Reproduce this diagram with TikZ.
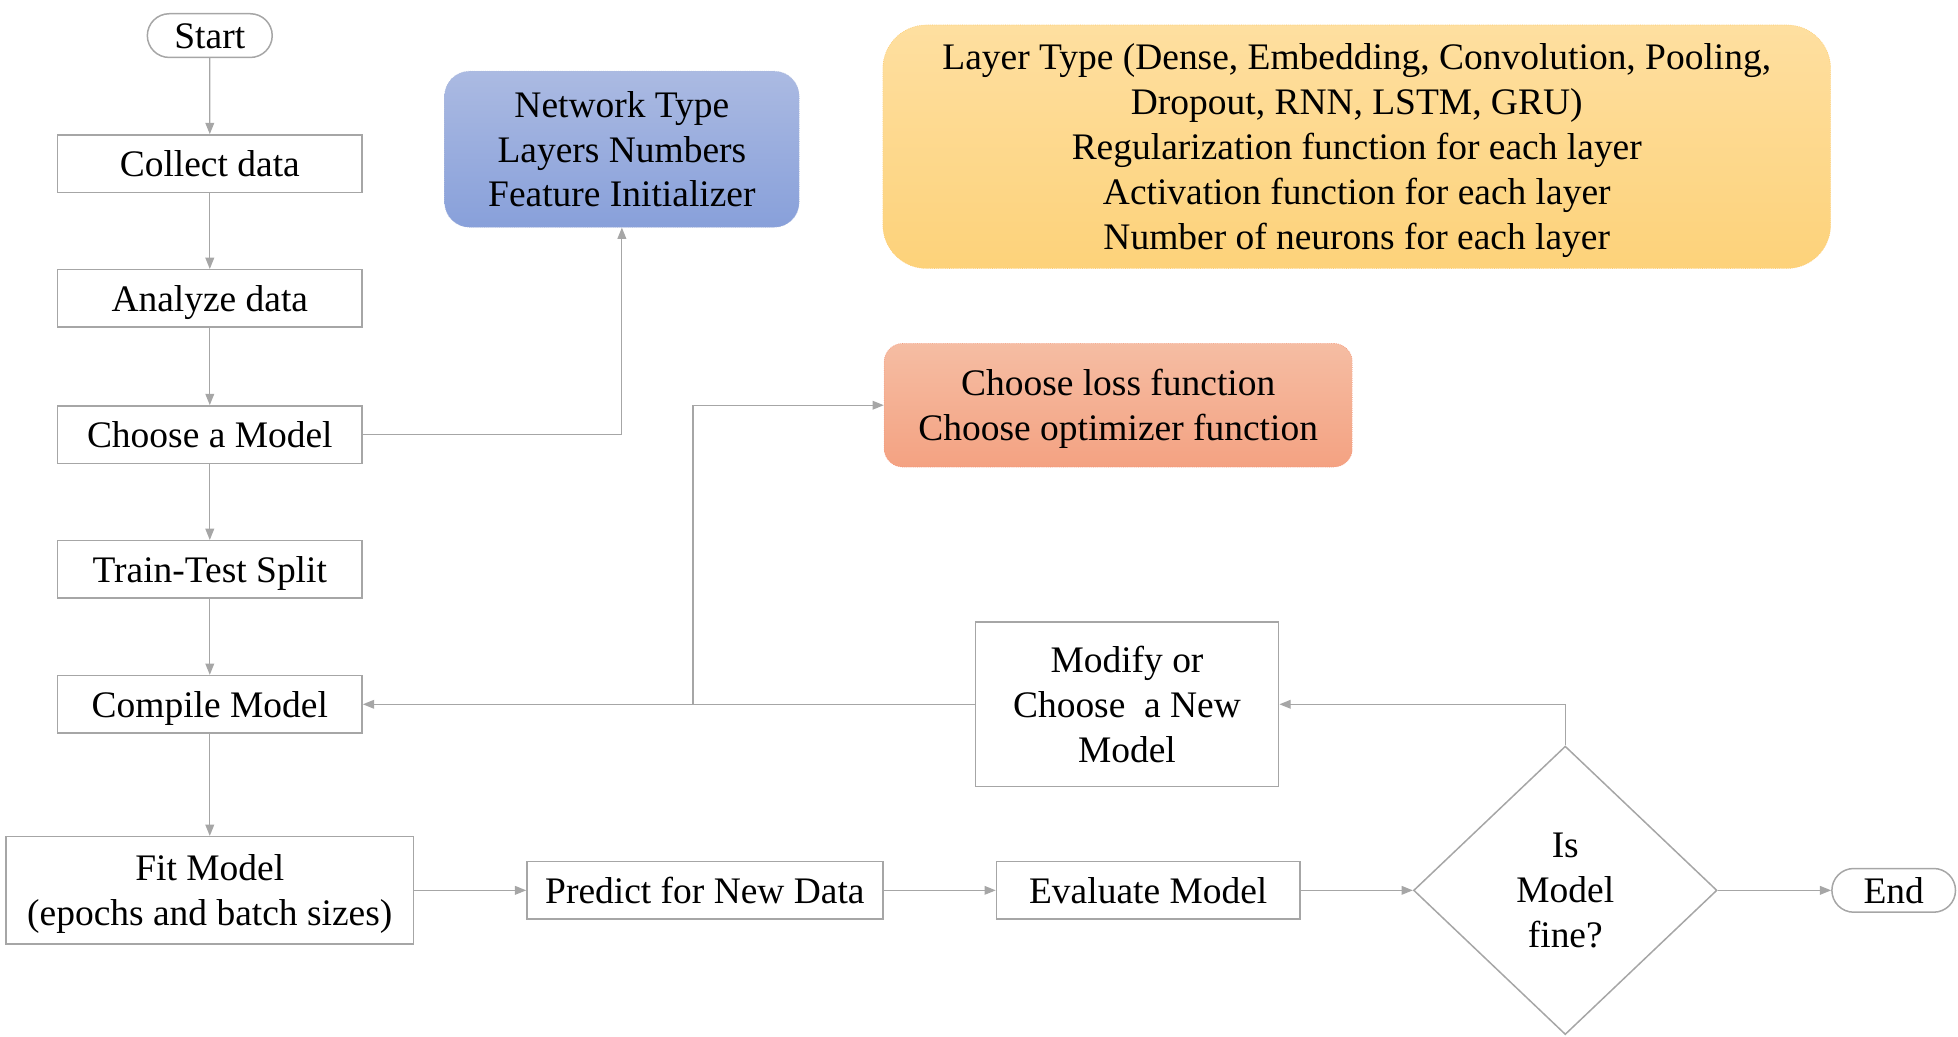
\documentclass[tikz,border=0pt]{standalone}
\usepackage{fontspec}
\setmainfont{Liberation Serif}
\usetikzlibrary{arrows.meta,shapes.geometric,shapes.misc}

\definecolor{linegray}{HTML}{A6A6A6}
\definecolor{bluetop}{HTML}{ABBAE2}
\definecolor{bluebot}{HTML}{88A0DA}
\definecolor{goldtop}{HTML}{FEDFA0}
\definecolor{goldbot}{HTML}{FDD27A}
\definecolor{salmtop}{HTML}{F5BDA3}
\definecolor{salmbot}{HTML}{F4A282}

\tikzset{
  multibox/.style={draw=linegray, line width=1.2pt, rectangle, minimum width=244pt,
    minimum height=46pt, inner sep=0pt, align=center, text depth=0pt},
  procbox/.style={multibox, text height=21pt},
  termbox/.style={draw=linegray, line width=1.2pt, rounded rectangle, minimum width=100pt,
    minimum height=35pt, inner sep=0pt, text height=21pt, text depth=0pt},
  decbox/.style={draw=linegray, line width=1.2pt, diamond, minimum width=243pt,
    minimum height=231pt, inner sep=0pt, align=center},
  infobox/.style={rectangle, inner sep=0pt, align=center, densely dotted, line width=0.5pt},
  conn/.style={draw=linegray, line width=1pt, -{Triangle[length=9pt,width=7pt]}}
}

\begin{document}
\begin{tikzpicture}[x=1pt, y=-1pt, font=\fontsize{30}{36}\selectfont]
\useasboundingbox (0,0) rectangle (1568,830);

% main column
\node[termbox] (start) at (168,28.5) {Start};
\node[procbox] (collect) at (168,131) {Collect data};
\node[procbox] (analyze) at (168,239) {Analyze data};
\node[procbox] (choose) at (168,348) {Choose a Model};
\node[procbox] (split) at (168,456) {Train-Test Split};
\node[procbox] (compile) at (168,564) {Compile Model};
\node[multibox, minimum width=326pt, minimum height=86pt] (fit) at (168,713)
  {Fit Model\\(epochs and batch sizes)};

% bottom row
\node[procbox, minimum width=285pt] (predict) at (564.5,713) {Predict for New Data};
\node[procbox, minimum width=243pt] (evaluate) at (919.5,713) {Evaluate Model};
\node[decbox] (isfine) at (1253.5,713) {Is\\Model\\fine?};
\node[termbox, minimum width=99pt] (end) at (1516.5,713) {End};
\node[multibox, minimum width=243pt, minimum height=132pt] (modify) at (902.5,564)
  {Modify or\\Choose\ \ a New\\Model};

% coloured info boxes
\node[infobox, minimum width=284pt, minimum height=125pt, rounded corners=20pt,
  top color=bluetop, bottom color=bluebot, draw=bluebot!90!black!60] (netw) at (498,119.5)
  {Network Type\\Layers Numbers\\Feature Initializer};
\node[infobox, minimum width=759pt, minimum height=195pt, rounded corners=35pt,
  top color=goldtop, bottom color=goldbot, draw=goldbot!90!orange, text depth=0pt]
  (layer) at (1086.5,117.5)
  {Layer Type (Dense, Embedding, Convolution, Pooling,\\Dropout, RNN, LSTM, GRU)\\%
   Regularization function for each layer\\Activation function for each layer\\%
   Number of neurons for each layer};
\node[infobox, minimum width=375pt, minimum height=99pt, rounded corners=15pt,
  top color=salmtop, bottom color=salmbot, draw=salmbot!90!red, text depth=0pt]
  (loss) at (895.5,324.5)
  {Choose loss function\\Choose optimizer function};

\coordinate (branch) at (555,564);

% connectors
\draw[conn] (start) -- (collect);
\draw[conn] (collect) -- (analyze);
\draw[conn] (analyze) -- (choose);
\draw[conn] (choose) -- (split);
\draw[conn] (split) -- (compile);
\draw[conn] (compile) -- (fit);
\draw[conn] (choose.east) -| (netw.south);
\draw[conn] (modify.west) -- (compile.east);
\draw[conn] (branch) |- (loss.west);
\draw[conn] (fit) -- (predict);
\draw[conn] (predict) -- (evaluate);
\draw[conn] (evaluate) -- (isfine);
\draw[conn] (isfine) -- (end);
\draw[conn] (isfine.north) |- (modify.east);
\end{tikzpicture}
\end{document}
